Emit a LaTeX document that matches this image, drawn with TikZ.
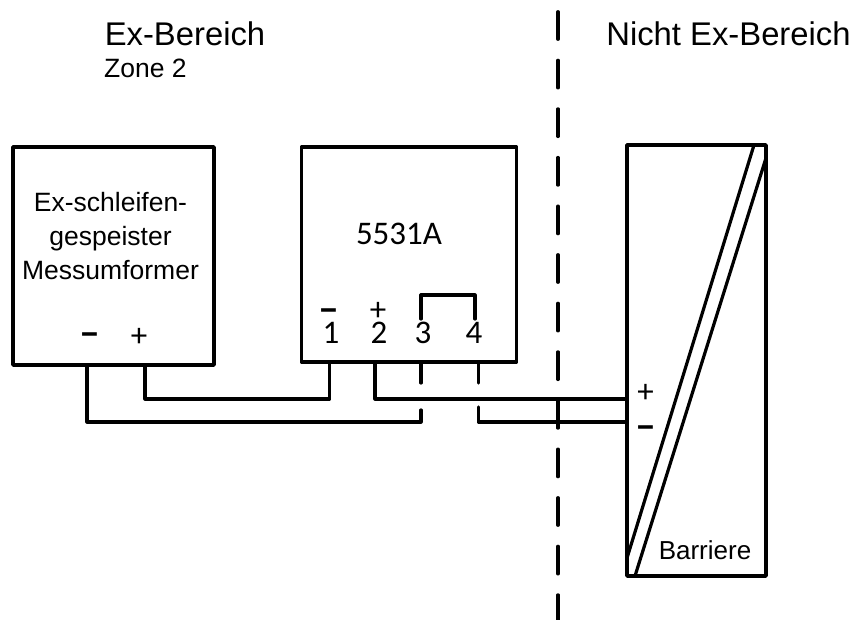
\documentclass[tikz,border=0pt]{standalone}
\usepackage{fontspec}
\usetikzlibrary{calc}
\setmainfont{Liberation Sans}
\newfontfamily\calib{Carlito}
\tikzset{
  box/.style={draw=black,line width=3.6pt,line join=round,inner sep=0pt,outer sep=0pt,rectangle,anchor=north west},
  wire/.style={draw=black,line width=3.2pt,line join=round,line cap=round},
  txt/.style={inner sep=0pt,anchor=base,text=black},
  lab/.style={txt,font=\calib\fontsize{33}{33}\selectfont},
  minus/.style={txt,font=\calib\bfseries\fontsize{38}{38}\selectfont},
  big/.style={txt,font=\fontsize{32.8}{32.8}\selectfont},
  mid/.style={txt,font=\fontsize{26.5}{26.5}\selectfont},
}
\begin{document}
\begin{tikzpicture}[x=1pt,y=-1pt]
\useasboundingbox (0,0) rectangle (857,620);
% diagonals, clipped to the barrier
\coordinate (d1a) at (754,145);
\coordinate (d1b) at (627,558);
\coordinate (d2a) at (766,158);
\coordinate (d2b) at (635,576);
\begin{scope}
\clip (627,145) rectangle (766,576);
\draw[wire,line cap=butt] ($(d1a)!-0.02!(d1b)$) -- ($(d1b)!-0.02!(d1a)$);
\draw[wire,line cap=butt] ($(d2a)!-0.02!(d2b)$) -- ($(d2b)!-0.02!(d2a)$);
\end{scope}
% boxes
\node[box,minimum width=201pt,minimum height=218pt] (tx) at (13,147) {};
\node[box,minimum width=215pt,minimum height=215pt] (mod) at (301.5,147) {};
\node[box,minimum width=139pt,minimum height=431pt] (bar) at (627,145) {};
% connection points
\coordinate (txm) at (87,365);
\coordinate (txp) at (145,365);
\coordinate (m1) at (329.5,362);
\coordinate (m2) at (375,362);
\coordinate (m3) at (421,362);
\coordinate (m4) at (478.5,362);
\coordinate (m3e) at (421,383);
\coordinate (m4e) at (478.5,383);
\coordinate (w3) at (421,410);
\coordinate (w4) at (478.5,407);
\coordinate (bp) at (627,399);
\coordinate (bm) at (627,422);
\coordinate (j3) at (421,319);
\coordinate (j3t) at (421,295);
\coordinate (j4t) at (475,295);
\coordinate (j4) at (475,319);
% wires
\draw[wire] (txm) |- (w3 |- bm) -- (w3);
\draw[wire] (txp) |- (m1 |- bp) -- (m1);
\draw[wire] (m2) |- (bp);
\draw[wire] (m3) -- (m3e);
\draw[wire] (m4) -- (m4e);
\draw[wire] (w4) |- (bm);
\draw[wire] (j3) -- (j3t) -- (j4t) -- (j4);
% separator
\coordinate (s0) at (558,11.7);
\coordinate (s1) at (558,640);
\draw[wire,line cap=round,dash pattern=on 27.6pt off 21pt] (s0) -- (s1);
% texts
\node[big] (t1) at (185,46) {Ex-Bereich};
\node[mid,anchor=base west] (t2) at (104,78) {Zone 2};
\node[big] (t3) at (728.5,46) {Nicht Ex-Bereich};
\node[mid] (t4) at (110.5,212) {Ex-schleifen-};
\node[mid] (t5) at (110.5,246) {gespeister};
\node[mid] (t6) at (110.5,279.5) {Messumformer};
\node[lab] (t7) at (399,245) {5531A};
\node[lab] (n1) at (331,344) {1};
\node[lab] (n2) at (379,344) {2};
\node[lab] (n3) at (423,344) {3};
\node[lab] (n4) at (474,344) {4};
\node[minus] (pm) at (329,323) {−};
\node[lab] (pp) at (378,321) {+};
\node[minus] (xm) at (90,347) {−};
\node[lab] (xp) at (139,347) {+};
\node[lab] (bplus) at (645.5,402) {+};
\node[minus] (bminus) at (646,439) {−};
\node[txt,font=\fontsize{26}{26}\selectfont] (t8) at (705,559) {Barriere};
\end{tikzpicture}
\end{document}
